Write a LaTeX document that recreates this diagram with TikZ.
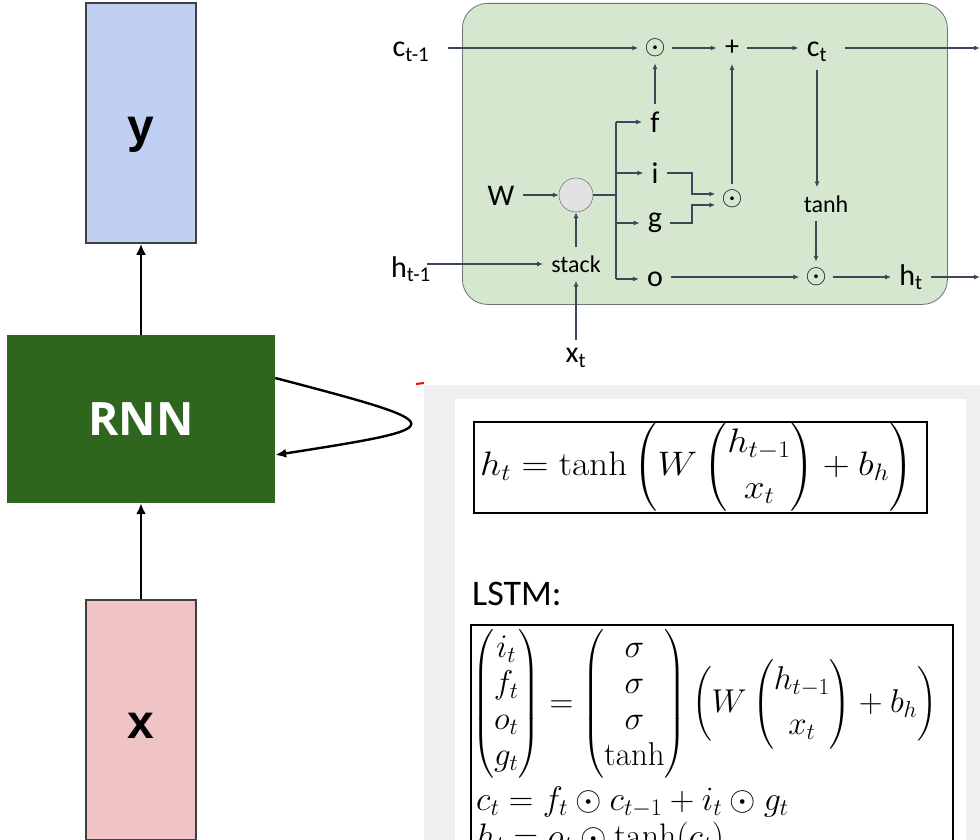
\RequirePackage{fix-cm}
\documentclass[tikz,border=0pt]{standalone}
\usepackage{amsmath}
\usepackage{fontspec}
\newfontfamily\calfont{Carlito}
\newfontfamily\arialfont{Liberation Sans}
\newfontfamily\rnnfont{Open Sans}
\usetikzlibrary{arrows.meta}
\definecolor{cellgreen}{RGB}{213,231,207}
\definecolor{cellline}{RGB}{105,115,125}
\definecolor{wire}{RGB}{60,72,90}
\definecolor{ybluefill}{RGB}{192,208,243}
\definecolor{xpinkfill}{RGB}{240,196,197}
\definecolor{rnngreen}{RGB}{45,102,28}
\definecolor{panelgray}{RGB}{238,239,241}
\definecolor{gatefill}{RGB}{226,226,228}
\begin{document}
\begin{tikzpicture}[x=1pt, y=-1pt,
  wireline/.style={draw=wire, line width=1.3pt},
  wire/.style={wireline, -{Latex[length=6pt,width=5pt]}},
  lbl/.style={font=\calfont\fontsize{30}{36}\selectfont, inner sep=8pt},
  gatelbl/.style={font=\calfont\fontsize{30}{36}\selectfont, inner sep=8pt},
  smalllbl/.style={font=\calfont\fontsize{24}{29}\selectfont, inner sep=8pt},
  opnode/.style={font=\fontsize{27}{32}\selectfont, inner sep=6pt},
  bigarrow/.style={line width=2.8pt, -{Latex[length=11pt,width=10pt]}},
  tallbox/.style={draw=black!75, line width=1.5pt, minimum width=110pt, minimum height=240pt, text depth=0pt, font=\arialfont\bfseries\fontsize{48}{56}\selectfont},
  eqbox/.style={draw, line width=1.5pt, anchor=north west, inner sep=0pt}]
  \useasboundingbox (0,0) rectangle (980,840);
  \node[tallbox, fill=ybluefill, text height=39pt] (ybox) at (141,123) {y};
  \node[fill=rnngreen, minimum width=268pt, minimum height=168pt, text=white, text height=33pt, text depth=0pt, font=\rnnfont\bfseries\fontsize{46}{54}\selectfont] (rnn) at (141,419) {RNN};
  \node[tallbox, fill=xpinkfill, text height=37pt] (xbox) at (141,720) {x};
  \draw[bigarrow] (rnn) -- (ybox);
  \draw[bigarrow] (xbox) -- (rnn);
  \draw[line width=2.4pt, -{Latex[length=11pt,width=9pt]}] ([yshift=41pt]rnn.east) .. controls (455,425) and (455,427) .. ([yshift=-36pt]rnn.east);
  \draw[red, line width=2pt] (416,384) -- (424,383);
  \fill[panelgray] (424,385) rectangle (980,840);
  \fill[white] (455,399) rectangle (966,840);
  \node[eqbox, minimum width=453pt, minimum height=91pt] (rnnbox) at (473,421) {};
  \node[anchor=west, inner sep=0pt, xscale=1.1, font=\fontsize{34}{40}\selectfont] (rnneq) at (480,467) {$h_t = \tanh\bigg(W\,\dbinom{h_{t-1}}{x_t} + b_h\bigg)$};
  \node[anchor=base west, inner sep=0pt, font=\calfont\fontsize{36}{43}\selectfont] (lstmtitle) at (472,605) {LSTM:};
  \node[eqbox, minimum width=482pt, minimum height=240pt] (lstmbox) at (470,624) {};
  \node[anchor=west, inner sep=0pt, font=\fontsize{33}{36}\selectfont] (gateeq) at (472,704) {$\begin{pmatrix}i_t\\f_t\\o_t\\g_t\end{pmatrix} = \begin{pmatrix}\sigma\\\sigma\\\sigma\\\tanh\end{pmatrix}\bigg(W\,\dbinom{h_{t-1}}{x_t} + b_h\bigg)$};
  \node[anchor=base west, inner sep=0pt, font=\fontsize{34}{40}\selectfont] (cteq) at (476,810) {$c_t = f_t \odot c_{t-1} + i_t \odot g_t$};
  \node[anchor=base west, inner sep=0pt, font=\fontsize{34}{40}\selectfont] (hteq) at (476,847) {$h_t = o_t \odot \tanh(c_t)$};
  \node[draw=cellline, fill=cellgreen, rounded corners=25pt, line width=0.8pt, minimum width=485pt, minimum height=301pt, anchor=north west] (cell) at (462,3) {};
  \node[lbl] (cprev) at (411,52) {c\textsubscript{t-1}};
  \node[opnode] (dtop) at (655,48) {$\odot$};
  \node[smalllbl, font=\calfont\fontsize{28}{34}\selectfont] (plus) at (732,48) {+};
  \node[lbl] (ct) at (817,52) {c\textsubscript{t}};
  \coordinate (ctout) at (980,48);
  \node[gatelbl] (f) at (655,122) {f};
  \node[gatelbl] (i) at (655,173) {i};
  \node[gatelbl] (g) at (655,223) {g};
  \node[gatelbl] (o) at (655,279) {o};
  \node[gatelbl] (W) at (501,196) {W};
  \node[circle, draw=gray!70!black, fill=gatefill, minimum size=34pt, inner sep=0pt] (gate) at (576,195) {};
  \coordinate (br) at (616,195);
  \node[smalllbl] (stack) at (576,264) {stack};
  \node[lbl] (hprev) at (411,269) {h\textsubscript{t-1}};
  \node[lbl] (xt) at (576,358) {x\textsubscript{t}};
  \node[opnode] (dmid) at (732,199) {$\odot$};
  \coordinate (ig) at (692,199);
  \node[smalllbl] (tanh) at (826,204) {tanh};
  \node[opnode] (dbot) at (816,277) {$\odot$};
  \node[lbl] (ht) at (911,277) {h\textsubscript{t}};
  \coordinate (htout) at (980,277);
  \draw[wire, shorten <=10pt] (cprev.east |- dtop) -- (dtop);
  \draw[wire] (dtop) -- (plus);
  \draw[wire] (plus) -- (ct.west |- plus);
  \draw[wire, shorten <=10pt] (ct.east |- ctout) -- (ctout);
  \draw[wire] (f) -- (dtop);
  \draw[wire] (dmid) -- (plus);
  \draw[wire] (ct.south) -- (ct.south |- tanh.north);
  \draw[wire] (dbot |- tanh.south) -- (dbot);
  \draw[wire] (W.east |- gate) -- (gate);
  \draw[wireline] (gate.east) -- (br);
  \draw[wireline] (br |- f) -- (br |- o);
  \foreach \gt in {f,i,g,o}
    \draw[wire] (br |- \gt) -- (\gt);
  \draw[wire] (i.east) -| ([yshift=5pt]ig) -- ([yshift=5pt]dmid.west);
  \draw[wire] (g.east) -| ([yshift=-6pt]ig) -- ([yshift=-6pt]dmid.west);
  \draw[wire] (stack) -- (gate);
  \draw[wire, shorten <=-12pt] (hprev.east |- stack) -- (stack);
  \draw[wire] (xt) -- (stack);
  \draw[wire] (o.east |- dbot) -- (dbot);
  \draw[wire] (dbot) -- (ht.west |- dbot);
  \draw[wire] (ht.east |- htout) -- (htout);
\end{tikzpicture}
\end{document}
